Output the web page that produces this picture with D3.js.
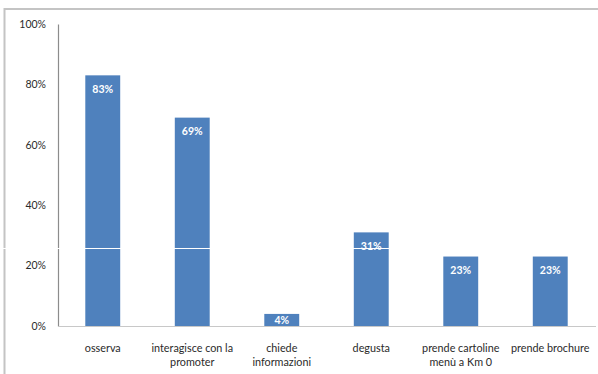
<!DOCTYPE html>
<html>
<head>
<meta charset="utf-8">
<script src="https://cdn.jsdelivr.net/npm/d3@7"></script>
<style>
  html, body { margin: 0; padding: 0; background: #fff; }
  svg { display: block; }
  text { font-family: Lato, "Open Sans", sans-serif; }
</style>
</head>
<body>
<svg id="chart" width="598" height="374"></svg>
<script>
// Share of visitors for each action at the stand
const categories = [
  ["osserva"],
  ["interagisce con la", "promoter"],
  ["chiede", "informazioni"],
  ["degusta"],
  ["prende cartoline", "menù a  Km 0"],
  ["prende brochure"]
];
const values = [83, 69, 4, 31, 23, 23];
const yTicks = [0, 20, 40, 60, 80, 100];

const svg = d3.select("#chart");
const W = 598, H = 374;
const plot = { left: 58, right: 595, top: 24, bottom: 326 };

// outer frame (top and left edges)
svg.append("line")
  .attr("x1", 4).attr("x2", W).attr("y1", 9).attr("y2", 9)
  .attr("stroke", "#c4c4c4").attr("stroke-width", 2);
svg.append("line")
  .attr("x1", 4.5).attr("x2", 4.5).attr("y1", 8).attr("y2", H)
  .attr("stroke", "#c4c4c4").attr("stroke-width", 2);

const x = d3.scaleBand()
  .domain(d3.range(values.length))
  .range([plot.left, plot.right])
  .paddingInner(0.61).paddingOuter(0.305);

const y = d3.scaleLinear().domain([0, 100]).range([plot.bottom, plot.top]);

// y axis
const yAxis = d3.axisLeft(y).tickValues(yTicks).tickSize(0).tickPadding(12)
  .tickFormat(d => d + "%");
const gy = svg.append("g").attr("transform", `translate(${plot.left},0)`).call(yAxis);
gy.select(".domain").attr("stroke", "#8c8c8c").attr("stroke-width", 1.2);
gy.selectAll("text").attr("font-size", 10.5).attr("fill", "#2a2a2a");

// bars
svg.append("g").selectAll("rect").data(values).join("rect")
  .attr("x", (d, i) => x(i))
  .attr("y", d => y(d))
  .attr("width", x.bandwidth())
  .attr("height", d => y(0) - y(d))
  .attr("fill", "#4f81bd");

// value labels inside the bars (centred in short bars)
svg.append("g").selectAll("text").data(values).join("text")
  .attr("x", (d, i) => x(i) + x.bandwidth() / 2)
  .attr("y", d => Math.min(y(d) + 13.5, (y(d) + y(0)) / 2))
  .attr("dominant-baseline", "central")
  .attr("text-anchor", "middle")
  .attr("font-size", 10.5)
  .attr("font-weight", "bold")
  .attr("fill", "#fff")
  .text(d => d + "%");

// x axis baseline
svg.append("line")
  .attr("x1", plot.left).attr("x2", W - 2)
  .attr("y1", plot.bottom + 0.5).attr("y2", plot.bottom + 0.5)
  .attr("stroke", "#c8c8c8").attr("stroke-width", 1.2);

// category labels
const cat = svg.append("g").selectAll("text").data(categories).join("text")
  .attr("x", (d, i) => x(i) + x.bandwidth() / 2)
  .attr("y", 352)
  .attr("text-anchor", "middle")
  .attr("font-size", 10.8)
  .attr("fill", "#2a2a2a");
cat.selectAll("tspan").data(d => d).join("tspan")
  .attr("x", function () { return d3.select(this.parentNode).attr("x"); })
  .attr("dy", (d, j) => j === 0 ? 0 : 14)
  .text(d => d);

// thin white rule across the image
svg.append("line")
  .attr("x1", 0).attr("x2", W).attr("y1", 248.5).attr("y2", 248.5)
  .attr("stroke", "#fff").attr("stroke-width", 1);
</script>
</body>
</html>
